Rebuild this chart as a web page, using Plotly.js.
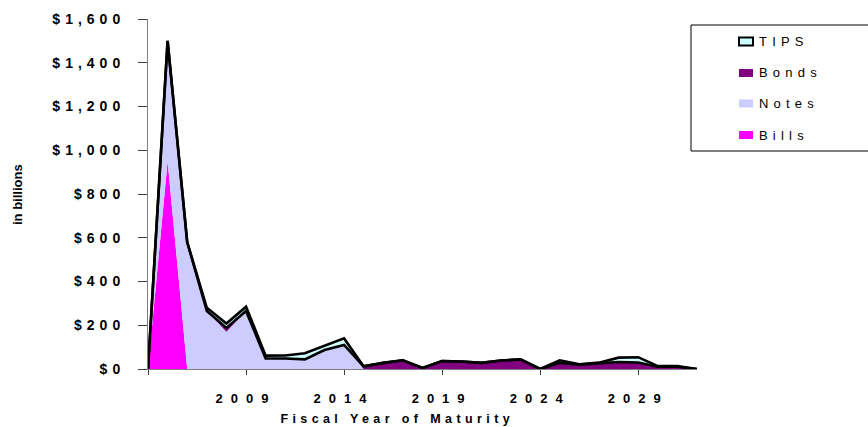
<!DOCTYPE html>
<html>
<head>
<meta charset="utf-8">
<script src="https://cdn.plot.ly/plotly-3.0.1.min.js"></script>
<style>
  html, body { margin: 0; padding: 0; background: #fff; }
  #chart { width: 868px; height: 427px; }
  /* wide letter spacing used for the axis and legend lettering */
  .xtick text { letter-spacing: 8px; }
  .ytick text { letter-spacing: 5px; }
  .annotation[data-index="0"] text { letter-spacing: 4.4px; }
  .annotation[data-index="2"] text,
  .annotation[data-index="3"] text,
  .annotation[data-index="4"] text,
  .annotation[data-index="5"] text { letter-spacing: 5.2px; }
</style>
</head>
<body>
<div id="chart"></div>
<script>
// Marketable debt maturing by fiscal year, in billions of dollars
const years = [2004, 2005, 2006, 2007, 2008, 2009, 2010, 2011, 2012, 2013, 2014, 2015, 2016, 2017, 2018,
               2019, 2020, 2021, 2022, 2023, 2024, 2025, 2026, 2027, 2028, 2029, 2030, 2031, 2032];
const bills = [0, 950, 0, 0, 0, 0, 0, 0, 0, 0, 0, 0, 0, 0, 0,
               0, 0, 0, 0, 0, 0, 0, 0, 0, 0, 0, 0, 0, 0];
const notes = [0, 550, 580, 265, 170, 265, 48, 48, 44, 87, 110, 0, 0, 0, 0,
               0, 0, 0, 0, 0, 0, 0, 0, 0, 0, 0, 0, 0, 0];
const bonds = [0, 0, 0, 0, 18, 0, 0, 0, 0, 0, 0, 12, 28, 40, 5,
               36, 34, 28, 39, 44, 0, 28, 20, 27, 32, 30, 10, 10, 0];
const tips  = [0, 0, 0, 15, 20, 20, 13, 14, 28, 20, 30, 0, 0, 0, 0,
               0, 0, 0, 0, 0, 0, 12, 2, 2, 20, 24, 3, 3, 0];

const xTickYears = [2004, 2009, 2014, 2019, 2024, 2029];
const xTickText  = ['', '2009', '2014', '2019', '2024', '2029'];

const seriesNames = ['Bills', 'Notes', 'Bonds', 'TIPS'];
const legendOrder = ['TIPS', 'Bonds', 'Notes', 'Bills'];

const colors = {
  Bills: '#FF00FF',
  Notes: '#CCCCFF',
  Bonds: '#800080',
  TIPS:  '#CCFFFF'
};

const values = { Bills: bills, Notes: notes, Bonds: bonds, TIPS: tips };

// stacked areas; only TIPS carries the black outline on top
const traces = seriesNames.map(name => ({
  type: 'scatter',
  mode: 'lines',
  name: name,
  x: years,
  y: values[name],
  stackgroup: 'debt',
  fillcolor: colors[name],
  line: name === 'TIPS' ? { color: '#000000', width: 2.6 } : { width: 0 },
  hoverinfo: 'skip',
  showlegend: false
}));

// lower edge of the TIPS band, outlined like its top
const tipsBase = years.map((_, i) => bills[i] + notes[i] + bonds[i]);
traces.push({
  type: 'scatter',
  mode: 'lines',
  x: years,
  y: tipsBase,
  line: { color: '#000000', width: 2.6 },
  hoverinfo: 'skip',
  showlegend: false
});

// plot-area geometry in pixels, used to place the boxed legend
const M = { l: 148, r: 171, t: 19, b: 58 };
const W = 868, H = 427;
const pw = W - M.l - M.r, ph = H - M.t - M.b;
const px = v => (v - M.l) / pw;
const py = v => (H - M.b - v) / ph;

const shapes = [{
  type: 'rect', xref: 'paper', yref: 'paper',
  x0: px(691), x1: px(880), y0: py(151), y1: py(25),
  line: { color: '#000000', width: 1 }, fillcolor: 'rgba(0,0,0,0)'
}];
const legendRows = [41.5, 73, 103.5, 135];
legendOrder.forEach((name, i) => {
  const cy = legendRows[i];
  shapes.push({
    type: 'rect', xref: 'paper', yref: 'paper',
    x0: px(739), x1: px(753), y0: py(cy + 4), y1: py(cy - 4),
    fillcolor: colors[name],
    line: name === 'TIPS' ? { color: '#000000', width: 2 } : { width: 0 }
  });
});

const annotations = [
  {
    text: 'Fiscal Year of Maturity', xref: 'paper', yref: 'paper',
    x: px(397), y: py(419), xanchor: 'center', yanchor: 'middle', showarrow: false,
    font: { family: 'Liberation Sans, Arial, sans-serif', size: 12.5, color: '#000', weight: 'bold' }
  },
  {
    text: 'in billions', xref: 'paper', yref: 'paper', textangle: -90,
    x: px(17), y: py(195), xanchor: 'center', yanchor: 'middle', showarrow: false,
    font: { family: 'Liberation Sans, Arial, sans-serif', size: 13, color: '#000', weight: 'bold' }
  }
];
legendOrder.forEach((name, i) => {
  annotations.push({
    text: name, xref: 'paper', yref: 'paper', align: 'left',
    x: px(757), y: py(legendRows[i]), xanchor: 'left', yanchor: 'middle', showarrow: false,
    font: { family: 'Liberation Sans, Arial, sans-serif', size: 13, color: '#000' }
  });
});

const layout = {
  width: W, height: H,
  margin: { l: M.l, r: M.r, t: M.t, b: M.b, pad: 0, autoexpand: false },
  paper_bgcolor: '#ffffff', plot_bgcolor: '#ffffff',
  showlegend: false,
  separators: '.,',
  xaxis: {
    range: [2004, 2032],
    tickmode: 'array', tickvals: xTickYears, ticktext: xTickText,
    ticks: 'outside', ticklen: 5, tickwidth: 1, tickcolor: '#404040',
    ticklabelstandoff: 12,
    showline: true, linecolor: '#808080', linewidth: 1,
    showgrid: false, zeroline: false,
    tickfont: { family: 'Liberation Sans, Arial, sans-serif', size: 13, color: '#000', weight: 'bold' }
  },
  yaxis: {
    range: [0, 1600],
    tickmode: 'linear', tick0: 0, dtick: 200,
    tickprefix: '$', tickformat: ',d',
    ticks: 'outside', ticklen: 9, tickwidth: 1, tickcolor: '#404040',
    ticklabelstandoff: 10,
    showline: true, linecolor: '#808080', linewidth: 1,
    showgrid: false, zeroline: false,
    tickfont: { family: 'Liberation Sans, Arial, sans-serif', size: 14, color: '#000', weight: 'bold' }
  },
  shapes: shapes,
  annotations: annotations
};

Plotly.newPlot('chart', traces, layout, { displayModeBar: false, staticPlot: true });
</script>
</body>
</html>
